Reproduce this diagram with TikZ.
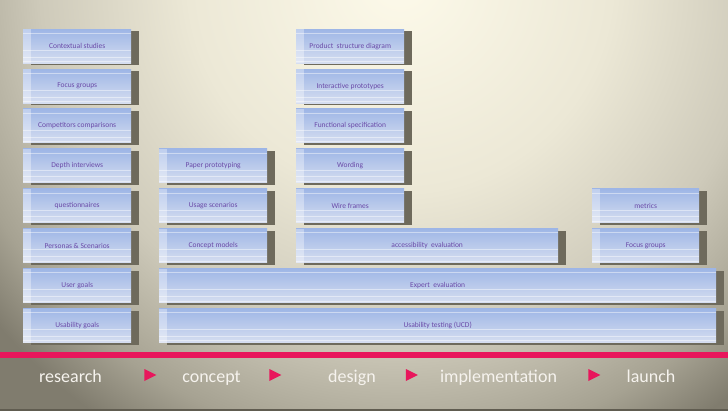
\documentclass[tikz,border=0pt]{standalone}
\usepackage{fontspec}
\setmainfont{Carlito}
\usetikzlibrary{shadows,shapes.geometric,calc}
\definecolor{boxtop}{RGB}{158,182,230}
\definecolor{boxbot}{RGB}{214,222,240}
\definecolor{shadowc}{RGB}{110,106,92}
\definecolor{txtc}{RGB}{106,74,168}
\definecolor{pinkc}{RGB}{232,22,92}
\definecolor{labc}{RGB}{246,243,238}
\definecolor{bgedge}{RGB}{128,124,110}
\definecolor{bgline}{RGB}{96,92,80}
\pgfdeclareradialshading{bgshade}{\pgfpoint{0bp}{0bp}}{%
  color(0bp)=(rgb,255:red,253;green,250;blue,234);
  color(10bp)=(rgb,255:red,236;green,232;blue,214);
  color(17bp)=(rgb,255:red,206;green,202;blue,186);
  color(22bp)=(rgb,255:red,166;green,162;blue,146);
  color(25bp)=(rgb,255:red,128;green,124;blue,110);
  color(50bp)=(rgb,255:red,128;green,124;blue,110)}
\tikzset{
  box/.style={anchor=north west, inner sep=0pt, minimum height=34pt,
    top color=boxtop, bottom color=boxbot, draw=none,
    text=txtc, font=\fontsize{7.5}{9}\selectfont,
    drop shadow={shadow xshift=8pt, shadow yshift=-2pt, fill=shadowc, opacity=1},
    path picture={
      \fill[white,opacity=0.35] (path picture bounding box.south west) rectangle ([xshift=8pt]path picture bounding box.north west);
      \foreach \f in {0.12,0.62,0.82,0.95}
        \draw[white,opacity=0.45,line width=0.7pt]
          ($(path picture bounding box.north west)!\f!(path picture bounding box.south west)$) --
          ($(path picture bounding box.north east)!\f!(path picture bounding box.south east)$);
    }},
  narrow/.style={box, minimum width=108pt},
  stagelab/.style={anchor=base, text=labc, font=\fontsize{18}{20}\selectfont},
  stagearrow/.style={shape=isosceles triangle, isosceles triangle stretches, fill=pinkc,
    minimum height=12pt, minimum width=12pt, inner sep=0pt, draw=none}
}
\begin{document}
\begin{tikzpicture}[x=1pt,y=1pt]
\useasboundingbox (0,0) rectangle (728,410);
\begin{scope}
  \clip (-6,-6) rectangle (734,416);
  \fill[bgedge] (-6,-6) rectangle (734,416);
  \shade[shading=bgshade] (400,430) circle (530);
\end{scope}
\fill[bgline] (-6,-6) rectangle (734,1.2);
% column 1
\node[narrow] (c1r1) at (23,381)   {Contextual studies};
\node[narrow] (c1r2) at (23,341.1) {Focus groups};
\node[narrow] (c1r3) at (23,301.2) {Competitors comparisons};
\node[narrow] (c1r4) at (23,261.3) {Depth interviews};
\node[narrow] (c1r5) at (23,221.4) {questionnaires};
\node[narrow] (c1r6) at (23,181.5) {Personas \& Scenarios};
\node[narrow] (c1r7) at (23,141.6) {User goals};
\node[narrow] (c1r8) at (23,101.7) {Usability goals};
% column 2
\node[narrow] (c2r4) at (159,261.3) {Paper prototyping};
\node[narrow] (c2r5) at (159,221.4) {Usage scenarios};
\node[narrow] (c2r6) at (159,181.5) {Concept models};
% column 3
\node[narrow] (c3r1) at (296,381)   {Product~ structure diagram};
\node[narrow] (c3r2) at (296,341.1) {Interactive prototypes};
\node[narrow] (c3r3) at (296,301.2) {Functional specification};
\node[narrow] (c3r4) at (296,261.3) {Wording};
\node[narrow] (c3r5) at (296,221.4) {Wire frames};
% column 4
\node[box, minimum width=107pt] (c4r5) at (592,221.4) {metrics};
\node[box, minimum width=107pt] (c4r6) at (592,181.5) {Focus groups};
% wide boxes
\node[box, minimum width=262pt] (acc) at (296,181.5) {accessibility~ evaluation};
\node[box, minimum width=557pt] (exp) at (159,141.6) {Expert~ evaluation};
\node[box, minimum width=557pt] (ust) at (159,101.7) {Usability testing (UCD)};
% timeline
\fill[pinkc] (-6,52) rectangle (734,58);
\node[stagelab] (s1) at (70.5,28) {research};
\node[stagelab] (s2) at (211.5,28) {concept};
\node[stagelab] (s3) at (352,28) {design};
\node[stagelab] (s4) at (498.5,28) {implementation};
\node[stagelab] (s5) at (651,28) {launch};
\node[stagearrow] (a1) at (148,35) {};
\node[stagearrow] (a2) at (273,35) {};
\node[stagearrow] (a3) at (409.5,35) {};
\node[stagearrow] (a4) at (592,35) {};
\end{tikzpicture}
\end{document}
